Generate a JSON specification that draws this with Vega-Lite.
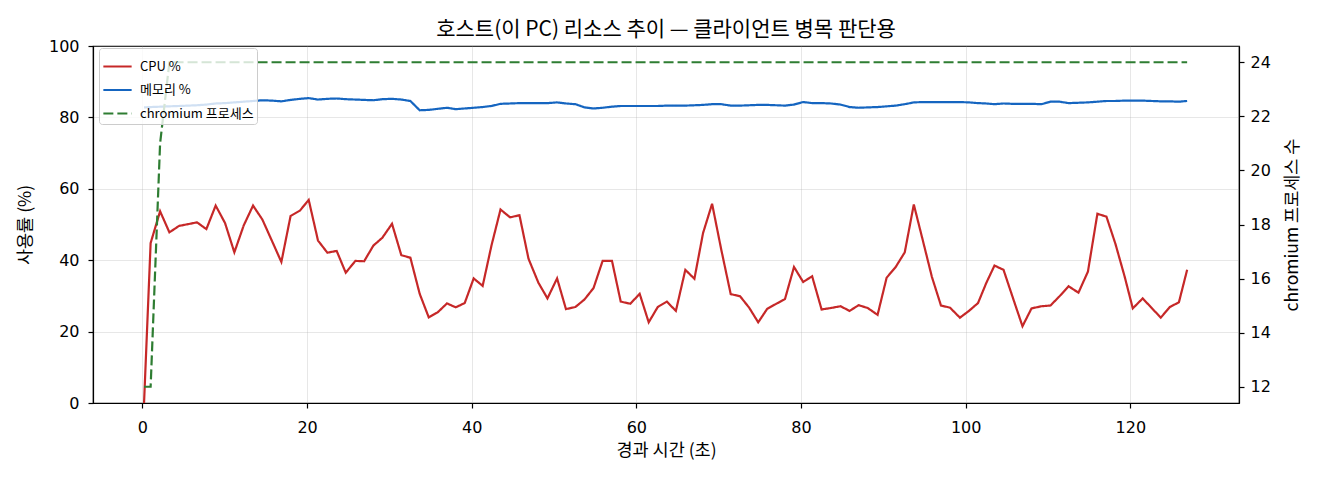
{
  "$schema": "https://vega.github.io/schema/vega-lite/v6.json",
  "width": 1146,
  "height": 357,
  "autosize": {"type": "none"},
  "padding": {"left": 93, "top": 46, "right": 81, "bottom": 77},
  "background": "white",
  "title": {
    "text": "호스트(이 PC) 리소스 추이 — 클라이언트 병목 판단용",
    "fontSize": 21,
    "fontWeight": "normal",
    "font": "Noto Sans CJK KR",
    "color": "#000",
    "frame": "group",
    "offset": -2
  },
  "data": {
    "values": [
      {"t": 0.2, "cpu": 0.0, "mem": 82.8, "procs": 12},
      {"t": 1.0, "cpu": 44.8, "mem": 82.9, "procs": 12},
      {"t": 2.15, "cpu": 53.7, "mem": 83.0, "procs": 21},
      {"t": 3.28, "cpu": 47.8, "mem": 83.1, "procs": 24},
      {"t": 4.45, "cpu": 49.6, "mem": 83.2, "procs": 24},
      {"t": 5.55, "cpu": 50.1, "mem": 83.3, "procs": 24},
      {"t": 6.64, "cpu": 50.6, "mem": 83.4, "procs": 24},
      {"t": 7.77, "cpu": 48.7, "mem": 83.6, "procs": 24},
      {"t": 8.9, "cpu": 55.3, "mem": 83.9, "procs": 24},
      {"t": 10.04, "cpu": 50.4, "mem": 84.0, "procs": 24},
      {"t": 11.17, "cpu": 42.2, "mem": 84.2, "procs": 24},
      {"t": 12.3, "cpu": 49.7, "mem": 84.4, "procs": 24},
      {"t": 13.44, "cpu": 55.3, "mem": 84.6, "procs": 24},
      {"t": 14.57, "cpu": 51.4, "mem": 84.8, "procs": 24},
      {"t": 15.7, "cpu": 45.6, "mem": 84.7, "procs": 24},
      {"t": 16.88, "cpu": 39.5, "mem": 84.5, "procs": 24},
      {"t": 18.0, "cpu": 52.4, "mem": 84.9, "procs": 24},
      {"t": 19.14, "cpu": 53.9, "mem": 85.2, "procs": 24},
      {"t": 20.2, "cpu": 56.9, "mem": 85.4, "procs": 24},
      {"t": 21.33, "cpu": 45.5, "mem": 85.0, "procs": 24},
      {"t": 22.47, "cpu": 42.1, "mem": 85.2, "procs": 24},
      {"t": 23.6, "cpu": 42.6, "mem": 85.3, "procs": 24},
      {"t": 24.7, "cpu": 36.5, "mem": 85.1, "procs": 24},
      {"t": 25.87, "cpu": 39.8, "mem": 85.0, "procs": 24},
      {"t": 26.93, "cpu": 39.7, "mem": 84.9, "procs": 24},
      {"t": 28.06, "cpu": 44.1, "mem": 84.8, "procs": 24},
      {"t": 29.15, "cpu": 46.3, "mem": 85.1, "procs": 24},
      {"t": 30.32, "cpu": 50.2, "mem": 85.2, "procs": 24},
      {"t": 31.45, "cpu": 41.4, "mem": 85.0, "procs": 24},
      {"t": 32.55, "cpu": 40.7, "mem": 84.6, "procs": 24},
      {"t": 33.68, "cpu": 30.6, "mem": 82.0, "procs": 24},
      {"t": 34.78, "cpu": 24.0, "mem": 82.1, "procs": 24},
      {"t": 35.87, "cpu": 25.4, "mem": 82.4, "procs": 24},
      {"t": 37.0, "cpu": 27.9, "mem": 82.7, "procs": 24},
      {"t": 38.06, "cpu": 26.8, "mem": 82.3, "procs": 24},
      {"t": 39.15, "cpu": 28.0, "mem": 82.5, "procs": 24},
      {"t": 40.24, "cpu": 34.9, "mem": 82.7, "procs": 24},
      {"t": 41.33, "cpu": 32.8, "mem": 82.9, "procs": 24},
      {"t": 42.4, "cpu": 44.1, "mem": 83.2, "procs": 24},
      {"t": 43.5, "cpu": 54.2, "mem": 83.8, "procs": 24},
      {"t": 44.66, "cpu": 52.0, "mem": 83.9, "procs": 24},
      {"t": 45.8, "cpu": 52.6, "mem": 84.0, "procs": 24},
      {"t": 46.9, "cpu": 40.4, "mem": 84.0, "procs": 24},
      {"t": 48.1, "cpu": 33.7, "mem": 84.0, "procs": 24},
      {"t": 49.2, "cpu": 29.3, "mem": 84.0, "procs": 24},
      {"t": 50.37, "cpu": 34.9, "mem": 84.2, "procs": 24},
      {"t": 51.45, "cpu": 26.3, "mem": 83.9, "procs": 24},
      {"t": 52.6, "cpu": 26.9, "mem": 83.7, "procs": 24},
      {"t": 53.7, "cpu": 29.0, "mem": 82.8, "procs": 24},
      {"t": 54.8, "cpu": 32.2, "mem": 82.5, "procs": 24},
      {"t": 55.9, "cpu": 39.8, "mem": 82.7, "procs": 24},
      {"t": 57.04, "cpu": 39.8, "mem": 83.0, "procs": 24},
      {"t": 58.1, "cpu": 28.4, "mem": 83.2, "procs": 24},
      {"t": 59.27, "cpu": 27.8, "mem": 83.2, "procs": 24},
      {"t": 60.4, "cpu": 30.6, "mem": 83.2, "procs": 24},
      {"t": 61.5, "cpu": 22.6, "mem": 83.2, "procs": 24},
      {"t": 62.6, "cpu": 26.9, "mem": 83.2, "procs": 24},
      {"t": 63.7, "cpu": 28.4, "mem": 83.3, "procs": 24},
      {"t": 64.8, "cpu": 25.8, "mem": 83.3, "procs": 24},
      {"t": 65.95, "cpu": 37.3, "mem": 83.3, "procs": 24},
      {"t": 67.05, "cpu": 34.8, "mem": 83.4, "procs": 24},
      {"t": 68.1, "cpu": 47.6, "mem": 83.5, "procs": 24},
      {"t": 69.2, "cpu": 55.8, "mem": 83.7, "procs": 24},
      {"t": 70.3, "cpu": 43.1, "mem": 83.7, "procs": 24},
      {"t": 71.46, "cpu": 30.5, "mem": 83.3, "procs": 24},
      {"t": 72.6, "cpu": 29.9, "mem": 83.3, "procs": 24},
      {"t": 73.7, "cpu": 26.7, "mem": 83.4, "procs": 24},
      {"t": 74.8, "cpu": 22.6, "mem": 83.5, "procs": 24},
      {"t": 75.9, "cpu": 26.4, "mem": 83.5, "procs": 24},
      {"t": 77.0, "cpu": 27.8, "mem": 83.4, "procs": 24},
      {"t": 78.05, "cpu": 29.1, "mem": 83.3, "procs": 24},
      {"t": 79.15, "cpu": 38.1, "mem": 83.6, "procs": 24},
      {"t": 80.26, "cpu": 33.9, "mem": 84.3, "procs": 24},
      {"t": 81.35, "cpu": 35.5, "mem": 84.0, "procs": 24},
      {"t": 82.5, "cpu": 26.2, "mem": 84.0, "procs": 24},
      {"t": 83.6, "cpu": 26.6, "mem": 83.9, "procs": 24},
      {"t": 84.8, "cpu": 27.1, "mem": 83.6, "procs": 24},
      {"t": 85.9, "cpu": 25.8, "mem": 82.9, "procs": 24},
      {"t": 87.0, "cpu": 27.4, "mem": 82.7, "procs": 24},
      {"t": 88.1, "cpu": 26.6, "mem": 82.8, "procs": 24},
      {"t": 89.3, "cpu": 24.7, "mem": 82.9, "procs": 24},
      {"t": 90.4, "cpu": 35.1, "mem": 83.1, "procs": 24},
      {"t": 91.5, "cpu": 38.1, "mem": 83.3, "procs": 24},
      {"t": 92.6, "cpu": 42.2, "mem": 83.7, "procs": 24},
      {"t": 93.7, "cpu": 55.6, "mem": 84.2, "procs": 24},
      {"t": 94.8, "cpu": 45.5, "mem": 84.3, "procs": 24},
      {"t": 95.9, "cpu": 35.3, "mem": 84.3, "procs": 24},
      {"t": 97.0, "cpu": 27.3, "mem": 84.3, "procs": 24},
      {"t": 98.1, "cpu": 26.7, "mem": 84.3, "procs": 24},
      {"t": 99.3, "cpu": 23.9, "mem": 84.3, "procs": 24},
      {"t": 100.4, "cpu": 25.8, "mem": 84.2, "procs": 24},
      {"t": 101.5, "cpu": 28.0, "mem": 84.0, "procs": 24},
      {"t": 102.5, "cpu": 33.6, "mem": 83.9, "procs": 24},
      {"t": 103.5, "cpu": 38.5, "mem": 83.7, "procs": 24},
      {"t": 104.6, "cpu": 37.3, "mem": 83.9, "procs": 24},
      {"t": 105.7, "cpu": 29.7, "mem": 83.8, "procs": 24},
      {"t": 106.9, "cpu": 21.5, "mem": 83.8, "procs": 24},
      {"t": 108.0, "cpu": 26.5, "mem": 83.8, "procs": 24},
      {"t": 109.2, "cpu": 27.1, "mem": 83.7, "procs": 24},
      {"t": 110.3, "cpu": 27.3, "mem": 84.4, "procs": 24},
      {"t": 111.4, "cpu": 29.9, "mem": 84.4, "procs": 24},
      {"t": 112.5, "cpu": 32.7, "mem": 84.0, "procs": 24},
      {"t": 113.7, "cpu": 30.9, "mem": 84.1, "procs": 24},
      {"t": 114.85, "cpu": 36.8, "mem": 84.2, "procs": 24},
      {"t": 116.0, "cpu": 53.0, "mem": 84.4, "procs": 24},
      {"t": 117.1, "cpu": 52.2, "mem": 84.6, "procs": 24},
      {"t": 118.2, "cpu": 44.5, "mem": 84.6, "procs": 24},
      {"t": 119.3, "cpu": 35.5, "mem": 84.7, "procs": 24},
      {"t": 120.3, "cpu": 26.5, "mem": 84.7, "procs": 24},
      {"t": 121.5, "cpu": 29.3, "mem": 84.7, "procs": 24},
      {"t": 122.6, "cpu": 26.6, "mem": 84.6, "procs": 24},
      {"t": 123.7, "cpu": 23.9, "mem": 84.5, "procs": 24},
      {"t": 124.8, "cpu": 26.9, "mem": 84.5, "procs": 24},
      {"t": 125.9, "cpu": 28.2, "mem": 84.4, "procs": 24},
      {"t": 126.9, "cpu": 37.3, "mem": 84.6, "procs": 24}
    ]
  },
  "encoding": {
    "x": {
      "field": "t",
      "type": "quantitative",
      "scale": {"domain": [-6, 133.2], "nice": false, "zero": false},
      "axis": {"title": "경과 시간 (초)", "values": [0, 20, 40, 60, 80, 100, 120], "labelPadding": 11, "titlePadding": 6}
    }
  },
  "layer": [
    {
      "transform": [{"fold": ["cpu", "mem"], "as": ["series", "value"]}],
      "mark": {"type": "line", "strokeWidth": 2.2, "clip": true},
      "encoding": {
        "y": {
          "field": "value",
          "type": "quantitative",
          "scale": {"domain": [0, 100], "nice": false},
          "axis": {"title": "사용률 (%)", "values": [0, 20, 40, 60, 80, 100], "labelPadding": 9, "titlePadding": 14}
        },
        "color": {
          "field": "series",
          "type": "nominal",
          "scale": {"domain": ["cpu", "mem", "procs"], "range": ["#c62828", "#1565c0", "#2e7d32"]},
          "legend": {
            "labelExpr": "datum.label == 'cpu' ? 'CPU %' : datum.label == 'mem' ? '메모리 %' : 'chromium 프로세스'"
          }
        },
        "strokeDash": {
          "field": "series",
          "type": "nominal",
          "scale": {"domain": ["cpu", "mem", "procs"], "range": [[1, 0], [1, 0], [10, 4]]},
          "legend": {
            "labelExpr": "datum.label == 'cpu' ? 'CPU %' : datum.label == 'mem' ? '메모리 %' : 'chromium 프로세스'"
          }
        }
      }
    },
    {
      "transform": [{"fold": ["procs"], "as": ["series", "value"]}],
      "mark": {"type": "line", "strokeWidth": 2.2, "clip": true},
      "encoding": {
        "y": {
          "field": "value",
          "type": "quantitative",
          "scale": {"domain": [11.4, 24.6], "nice": false, "zero": false},
          "axis": {
            "title": "chromium 프로세스 수",
            "orient": "right",
            "values": [12, 14, 16, 18, 20, 22, 24],
            "grid": false,
            "labelPadding": 6,
            "titlePadding": 13,
            "titleAngle": 270,
            "titleBaseline": "top"
          }
        },
        "color": {
          "field": "series",
          "type": "nominal",
          "scale": {"domain": ["cpu", "mem", "procs"], "range": ["#c62828", "#1565c0", "#2e7d32"]},
          "legend": {
            "labelExpr": "datum.label == 'cpu' ? 'CPU %' : datum.label == 'mem' ? '메모리 %' : 'chromium 프로세스'"
          }
        },
        "strokeDash": {
          "field": "series",
          "type": "nominal",
          "scale": {"domain": ["cpu", "mem", "procs"], "range": [[1, 0], [1, 0], [10, 4]]},
          "legend": {
            "labelExpr": "datum.label == 'cpu' ? 'CPU %' : datum.label == 'mem' ? '메모리 %' : 'chromium 프로세스'"
          }
        }
      }
    }
  ],
  "resolve": {"scale": {"y": "independent"}, "axis": {"y": "independent"}},
  "config": {
    "font": "Noto Sans CJK KR",
    "view": {"stroke": "#000", "strokeWidth": 1.2},
    "axis": {
      "labelFont": "DejaVu Sans",
      "titleFont": "Noto Sans CJK KR",
      "labelFontSize": 16,
      "titleFontSize": 17.5,
      "titleFontWeight": "normal",
      "labelColor": "#000",
      "titleColor": "#000",
      "domainColor": "#000",
      "domainWidth": 1.2,
      "tickColor": "#000",
      "tickSize": 5,
      "tickWidth": 1.2,
      "gridColor": "#b0b0b0",
      "gridOpacity": 0.3,
      "gridWidth": 1
    },
    "legend": {
      "orient": "none",
      "legendX": 6,
      "legendY": 2,
      "title": null,
      "symbolType": "stroke",
      "symbolSize": 800,
      "symbolStrokeWidth": 2.2,
      "labelFont": "Noto Sans CJK KR",
      "labelFontSize": 13,
      "labelColor": "#000",
      "labelOffset": 7,
      "rowPadding": 0.5,
      "padding": 3,
      "fillColor": "rgba(255,255,255,0.8)",
      "strokeColor": "#cccccc",
      "cornerRadius": 3
    }
  }
}
